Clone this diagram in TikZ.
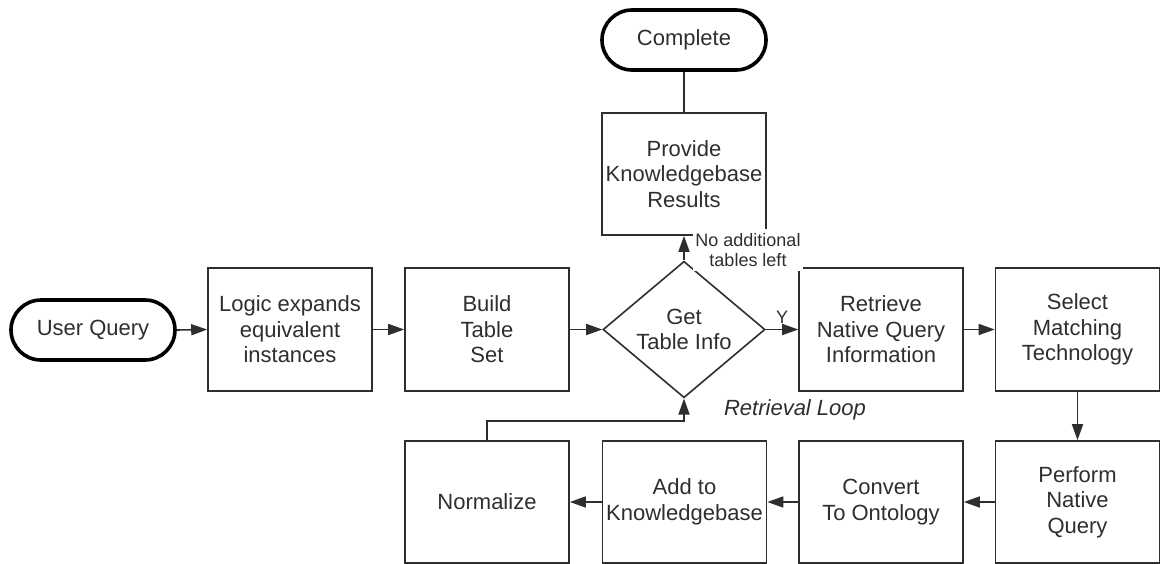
\documentclass[tikz,border=0pt]{standalone}
\usepackage{fontspec}
\setmainfont{Liberation Sans}
\usetikzlibrary{shapes.geometric,arrows.meta}
\definecolor{ink}{HTML}{2E2E2E}
\begin{document}
\begin{tikzpicture}[x=1pt,y=-1pt,
  every node/.style={text=ink},
  stepbox/.style={draw=ink,line width=1.6pt,minimum width=164pt,minimum height=123pt,
    inner sep=0pt,align=center,font=\fontsize{22}{25.5}\selectfont},
  terminal/.style={draw=black,line width=3.6pt,rounded corners=30pt,minimum width=164pt,
    minimum height=60pt,inner sep=0pt,font=\fontsize{22}{25.5}\selectfont},
  decision/.style={diamond,draw=ink,line width=1.6pt,minimum width=162pt,minimum height=121pt,
    inner sep=0pt,align=center,font=\fontsize{22}{25.5}\selectfont},
  flow/.style={draw=ink,line width=1.6pt,-{Triangle[length=16pt,width=11pt]}},
  link/.style={draw=ink,line width=1.6pt},
  small/.style={font=\fontsize{18}{20}\selectfont,align=center}]
\useasboundingbox (0,0) rectangle (1160,563);

% terminals
\node[terminal] (uq) at (93,330) {User Query};
\node[terminal] (complete) at (684,40) {Complete};

% top row
\node[stepbox] (logic) at (290,329.5) {Logic expands\\equivalent\\instances};
\node[stepbox] (build) at (487,329.5) {Build\\Table\\Set};
\node[decision] (get) at (684,329.5) {Get\\Table Info};
\node[stepbox] (retrieve) at (881,329.5) {Retrieve\\Native Query\\Information};
\node[stepbox] (select) at (1077.5,329.5) {Select\\Matching\\Technology};

% results box above the decision
\node[stepbox,minimum height=122pt] (provide) at (684,174) {Provide\\Knowledgebase\\Results};

% bottom row
\node[stepbox,minimum height=122pt] (perform) at (1077.5,502) {Perform\\Native\\Query};
\node[stepbox,minimum height=122pt] (convert) at (881,502) {Convert\\To Ontology};
\node[stepbox,minimum height=122pt] (add) at (684.5,502) {Add to\\Knowledgebase};
\node[stepbox,minimum height=122pt] (normalize) at (487,502) {Normalize};

% connectors
\draw[flow] (uq.east) -- (logic.west);
\draw[flow] (logic.east) -- (build.west);
\draw[flow] (build.east) -- (get.west);
\draw[flow] (get.east) -- node[small,above=2pt] (y) {Y} (retrieve.west);
\draw[flow] (retrieve.east) -- (select.west);
\draw[flow] (select.south) -- (perform.north);
\draw[flow] (perform.west) -- (convert.east);
\draw[flow] (convert.west) -- (add.east);
\draw[flow] (add.west) -- (normalize.east);
\draw[flow] (normalize.north) -- ++(0,-19) -| (get.south);
\draw[flow] (get.north) -- (provide.south);
\draw[link] (complete.south) -- (provide.north);

% labels
\node[small,fill=white,inner xsep=2pt,inner ysep=4pt] (noleft) at (748,250) {No additional\\tables left};
\node[font=\fontsize{22}{25.5}\selectfont\itshape] (loop) at (795,410) {Retrieval Loop};
\end{tikzpicture}
\end{document}
